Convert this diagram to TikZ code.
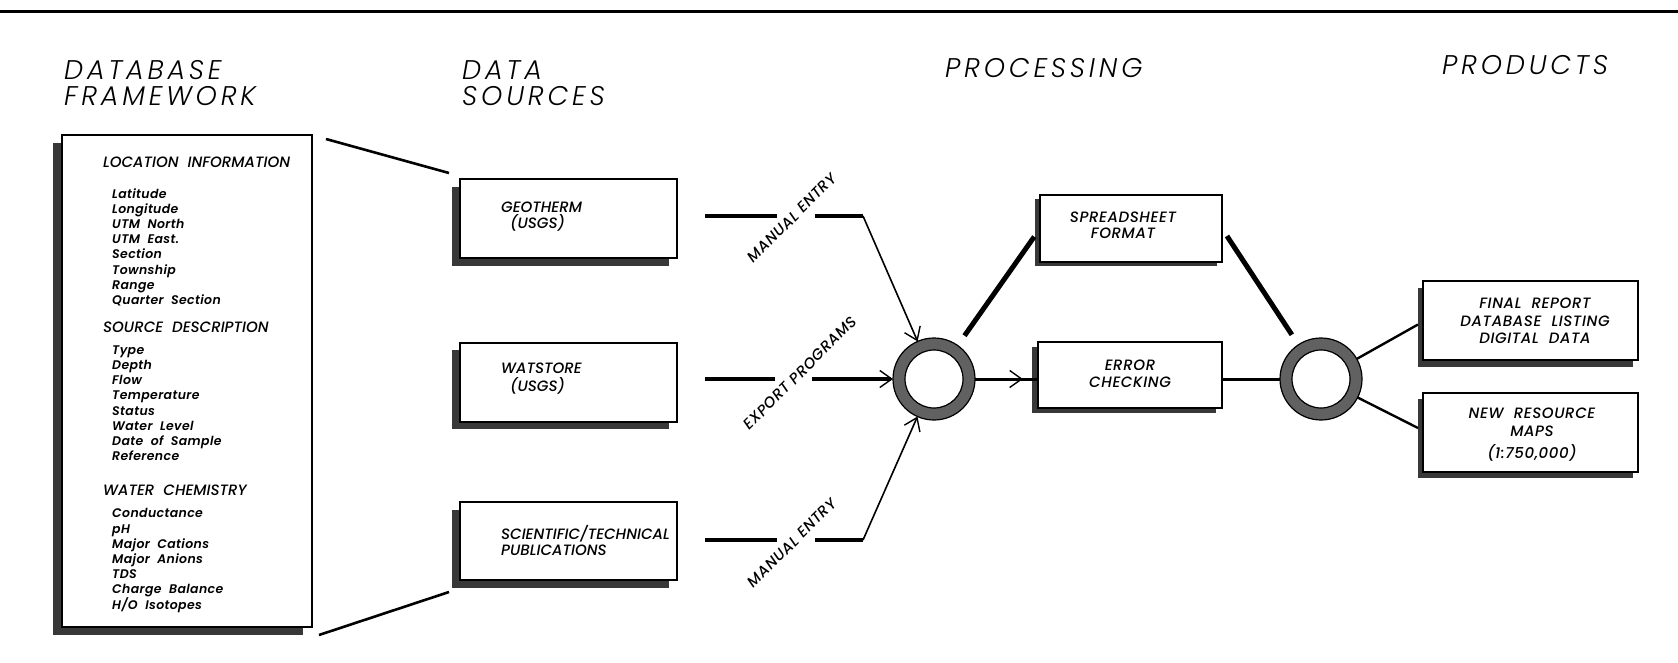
\documentclass[tikz,border=0pt]{standalone}
\usepackage{fontspec}
\setmainfont{Poppins}
\newfontfamily\headfont{Poppins Light Italic}
\newfontfamily\labelfont{Poppins Medium Italic}
\newfontfamily\entryfont{Poppins SemiBold Italic}
\usetikzlibrary{shadows,arrows.meta,decorations.markings,calc}

% section heading and indented entry inside the framework panel
\newcommand\fwhead[1]{{\labelfont\fontsize{15}{15.1}\selectfont #1}}
\newcommand\fwitem[1]{\hspace*{9pt}#1}

\tikzset{
  panel/.style={draw=black, line width=1.8pt, fill=white, inner sep=0pt, outer sep=0pt},
  backing/.style 2 args={drop shadow={shadow xshift=#1, shadow yshift=#2, fill=black!78, opacity=1}},
  hub/.style={circle, draw=black!62, line width=12pt, minimum size=70pt, inner sep=0pt, fill=white},
  hubtip/.tip={Straight Barb[length=12pt,width=17pt,line width=1.4pt]},
  title/.style={font=\headfont\addfontfeature{LetterSpace=14}\fontsize{27}{26.5}\selectfont, inner sep=0pt, align=left, anchor=north west},
  boxtext/.style={font=\labelfont\fontsize{15}{16}\selectfont, inner sep=0pt, align=left},
  prodtext/.style={font=\labelfont\addfontfeature{LetterSpace=4}\fontsize{15}{16}\selectfont, inner sep=0pt, align=center, anchor=north},
  fwtext/.style={font=\entryfont\addfontfeature{LetterSpace=3}\fontsize{12.5}{15.1}\selectfont, inner sep=0pt, align=left},
  tag/.style={font=\labelfont\addfontfeature{LetterSpace=4}\fontsize{15}{16}\selectfont, inner sep=0pt, rotate=45},
  feed/.style={line width=3.2pt},
  fan/.style={line width=1.6pt, -hubtip},
  bar/.style={line width=5pt},
  flow/.style={line width=3pt},
  branch/.style={line width=2.4pt},
  bracket/.style={line width=2.6pt},
}

\begin{document}
\begin{tikzpicture}[x=1pt, y=-1pt]
  \fill[white] (0,0) rectangle (1678,662);
  \useasboundingbox (0,0) rectangle (1678,662);

  % heavy rule along the top
  \draw[line width=3.5pt] (0,11.5) -- (1678,11.5);

  % column titles
  \node[title] (t1) at (64,60) {DATABASE\\FRAMEWORK};
  \node[title] (t2) at (462,60) {DATA\\SOURCES};
  \node[title] (t3) at (945,58) {PROCESSING};
  \node[title] (t4) at (1442,55) {PRODUCTS};

  % database framework panel
  \node[panel, backing={-9pt}{-8pt}, minimum width=250pt, minimum height=492pt] (fw) at (187,381) {};
  \node[fwtext, anchor=north west] (fwtx) at (103,157) {%
    \fwhead{LOCATION\ \ INFORMATION}\\[15.7pt]
    \fwitem{Latitude}\\
    \fwitem{Longitude}\\
    \fwitem{UTM\ \ North}\\
    \fwitem{UTM\ \ East.}\\
    \fwitem{Section}\\
    \fwitem{Township}\\
    \fwitem{Range}\\
    \fwitem{Quarter\ \ Section}\\[13.4pt]
    \fwhead{SOURCE\ \ DESCRIPTION}\\[6.8pt]
    \fwitem{Type}\\
    \fwitem{Depth}\\
    \fwitem{Flow}\\
    \fwitem{Temperature}\\
    \fwitem{Status}\\
    \fwitem{Water\ \ Level}\\
    \fwitem{Date\ \ of\ \ Sample}\\
    \fwitem{Reference}\\[19.6pt]
    \fwhead{WATER\ \ CHEMISTRY}\\[7.8pt]
    \fwitem{Conductance}\\
    \fwitem{pH}\\
    \fwitem{Major\ \ Cations}\\
    \fwitem{Major\ \ Anions}\\
    \fwitem{TDS}\\
    \fwitem{Charge\ \ Balance}\\
    \fwitem{H/O\ \ Isotopes}};

  % data sources
  \node[panel, backing={-8pt}{-8pt}, minimum width=217pt, minimum height=79pt] (geo) at (568.5,218.5) {};
  \node[panel, backing={-8pt}{-7pt}, minimum width=217pt, minimum height=79pt] (wat) at (568.5,382.5) {};
  \node[panel, backing={-8pt}{-8pt}, minimum width=217pt, minimum height=78pt] (sci) at (568.5,541) {};
  \node[boxtext, anchor=north west] (geotx) at (501,201.5) {GEOTHERM\\\hspace*{9pt}(USGS)};
  \node[boxtext, anchor=north west] (wattx) at (501,362.5) {WATSTORE\\[2pt]\hspace*{9pt}(USGS)};
  \node[boxtext, anchor=north west] (scitx) at (501,525.5) {SCIENTIFIC/TECHNICAL\\PUBLICATIONS};

  % brackets tying the framework to the sources
  \draw[bracket] ($(fw.north east)+(14,4)$) -- ($(geo.north west)+(-11,-6)$);
  \draw[bracket] ($(fw.south east)+(7,8)$) -- ($(sci.south west)+(-11,12)$);

  % processing boxes and hubs
  \node[hub] (c1) at (934,379) {};
  \node[hub] (c2) at (1321,379) {};
  \foreach \h in {c1,c2} {
    \draw[line width=1.2pt] (\h.center) circle (41pt) (\h.center) circle (29pt);
  }
  \node[panel, backing={-5pt}{-4pt}, minimum width=182pt, minimum height=67pt] (sheet) at (1131,228.5) {};
  \node[panel, backing={-6pt}{-5pt}, minimum width=184pt, minimum height=66pt] (err) at (1130,375) {};
  \node[prodtext] (sheettx) at (1123,211.5) {SPREADSHEET\\FORMAT};
  \node[prodtext] (errtx) at (1130,359.5) {ERROR\\[1pt]CHECKING};

  % products
  \node[panel, backing={-5pt}{-7pt}, minimum width=215pt, minimum height=79pt] (rep) at (1530.5,320.5) {};
  \node[panel, backing={-5pt}{-6pt}, minimum width=215pt, minimum height=79pt] (map) at (1530.5,432.5) {};
  \node[prodtext] (reptx) at (1535,297.5) {FINAL\ \ REPORT\\[2pt]DATABASE\ \ LISTING\\[1pt]DIGITAL\ \ DATA};
  \node[prodtext] (maptx) at (1532,407.5) {NEW\ \ RESOURCE\\[2pt]MAPS\\[6pt](1:750,000)};

  % entry routes into the first hub
  \coordinate (g1) at (777,216);
  \coordinate (g2) at (815,216);
  \coordinate (g3) at (863,216);
  \coordinate (w1) at (775,379);
  \coordinate (w2) at (812,379);
  \coordinate (s1) at (777,540);
  \coordinate (s2) at (815,540);
  \coordinate (s3) at (863,540);

  \draw[feed] ($(geo.east)+(28,-2.5)$) -- (g1);
  \draw[feed] (g2) -- (g3);
  \draw[fan] (g3) -- (c1);
  \draw[feed] ($(wat.east)+(28,-3.5)$) -- (w1);
  \draw[feed, -hubtip] (w2) -- (c1);
  \draw[feed] ($(sci.east)+(28,-1)$) -- (s1);
  \draw[feed] (s2) -- (s3);
  \draw[fan] (s3) -- (c1);

  \node[tag] (lab1) at (792,218) {MANUAL ENTRY};
  \node[tag] (lab2) at (800,373) {EXPORT PROGRAMS};
  \node[tag] (lab3) at (792,543) {MANUAL ENTRY};

  % processing links
  \draw[bar, shorten <=12pt, shorten >=10pt] (c1) -- (sheet.west);
  \draw[bar, shorten <=9pt, shorten >=12pt] (sheet.east) -- (c2);
  \draw[flow, postaction={decorate},
        decoration={markings, mark=at position 0.76 with {\arrow{hubtip}}}]
    (c1) -- (c1 -| err.west);
  \draw[flow] (c2 -| err.east) -- (c2);

  % product branches
  \draw[branch] (c2) -- ($(rep.west)+(-5,4)$);
  \draw[branch] (c2) -- ($(map.west)+(-5,-4.5)$);
\end{tikzpicture}
\end{document}
